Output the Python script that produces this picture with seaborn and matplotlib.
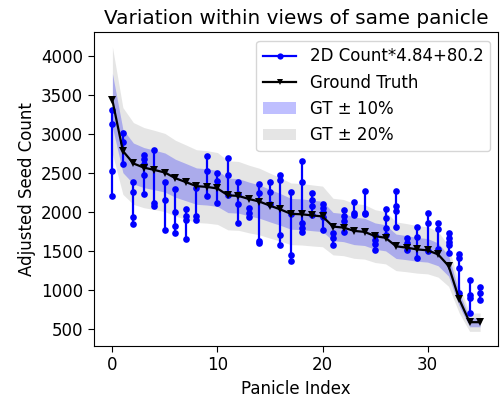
import matplotlib
matplotlib.use("Agg")
import matplotlib.pyplot as plt
import seaborn as sns
import numpy as np
import pandas as pd
from matplotlib.lines import Line2D
from matplotlib.patches import Patch

# Ground truth seed count per panicle (sorted descending)
ground_truth = [3430, 2780, 2620, 2567, 2537, 2504, 2431, 2381, 2330, 2320,
                2300, 2212, 2205, 2165, 2132, 2080, 2031, 1975, 1970, 1955,
                1942, 1812, 1799, 1757, 1744, 1690, 1668, 1560, 1542, 1520,
                1508, 1456, 1308, 885, 588, 588]

# Adjusted 2D counts from the different views of each panicle
view_counts = [
    [3310, 3120, 2530, 2200],
    [3015, 2900, 2615],
    [2381, 2250, 1934, 1842],
    [2730, 2680, 2610, 2475, 2235],
    [2790, 2115, 2073],
    [2381, 2158, 1770],
    [2293, 2001, 1820, 1728],
    [2039, 1947, 1896, 1652],
    [2305, 1947, 1893],
    [2710, 2530, 2205],
    [2503, 2390, 2111],
    [2690, 2470, 2215],
    [2377, 2234, 2095, 1862],
    [2044, 1989, 1934],
    [2356, 2242, 1631, 1601],
    [2377, 2250, 2095],
    [2474, 2411, 1703, 1576],
    [2250, 1968, 1450, 1365],
    [2656, 2377, 1860, 1800, 1740],
    [2242, 2158, 2073, 1960],
    [2103, 2050, 2001, 1934, 1766],
    [1732, 1668, 1575],
    [2019, 1950, 1884, 1744],
    [2130, 1990, 1960],
    [2263, 1989, 1968],
    [1710, 1640, 1590, 1508],
    [2035, 1925, 1800, 1700],
    [2263, 2073, 2011, 1810],
    [1660, 1600, 1518],
    [1808, 1681, 1415],
    [1985, 1855, 1504],
    [1862, 1780, 1530],
    [1732, 1670, 1620, 1570, 1478],
    [1460, 1410, 1283, 960],
    [1134, 940, 895, 703],
    [1040, 960, 872],
]

count_label = "2D Count*4.84+80.2"
gt_label = "Ground Truth"
band10_label = "GT \u00b1 10%"
band20_label = "GT \u00b1 20%"

idx = np.arange(len(ground_truth))
gt = np.array(ground_truth, dtype=float)

rows = [(i, v) for i, vals in enumerate(view_counts) for v in vals]
views = pd.DataFrame(rows, columns=["panicle", "count"])
gt_df = pd.DataFrame({"panicle": idx, "gt": gt})

plt.rcParams.update({
    "font.size": 12,
    "xtick.major.size": 4.2,
    "ytick.major.size": 4.2,
})

fig, ax = plt.subplots(figsize=(5, 4), dpi=100)
fig.subplots_adjust(left=0.188, right=0.997, top=0.919, bottom=0.136)

ax.fill_between(idx, gt * 0.8, gt * 1.2, color="gray", alpha=0.2,
                linewidth=0, zorder=1)
ax.fill_between(idx, gt * 0.9, gt * 1.1, color="blue", alpha=0.25,
                linewidth=0, zorder=1.5)

sns.lineplot(data=views, x="panicle", y="count", units="panicle",
             estimator=None, color="blue", marker="o", markersize=4.8,
             markeredgewidth=0, linewidth=1.6, ax=ax, zorder=2, legend=False)
sns.lineplot(data=gt_df, x="panicle", y="gt", color="black", marker="v",
             markersize=5.2, markeredgewidth=0, linewidth=1.6, ax=ax,
             zorder=3, legend=False)

handles = [
    Line2D([], [], color="blue", marker="o", markersize=4.5,
           markeredgewidth=0, linewidth=1.6, label=count_label),
    Line2D([], [], color="black", marker="v", markersize=5,
           markeredgewidth=0, linewidth=1.6, label=gt_label),
    Patch(facecolor="blue", alpha=0.25, edgecolor="none", label=band10_label),
    Patch(facecolor="gray", alpha=0.2, edgecolor="none", label=band20_label),
]
ax.legend(handles=handles, loc="upper right", fontsize=12)

ax.set_title("Variation within views of same panicle", fontsize=14.4)
ax.set_xlabel("Panicle Index", fontsize=12)
ax.set_ylabel("Adjusted Seed Count", fontsize=12)
ax.set_xticks([0, 10, 20, 30])
ax.set_yticks([500, 1000, 1500, 2000, 2500, 3000, 3500, 4000])
ax.tick_params(labelsize=12)

fig.savefig("out.png", dpi=100)
